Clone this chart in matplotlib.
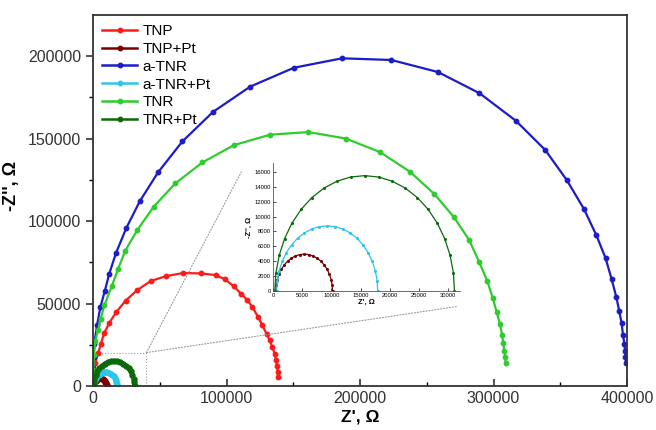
import matplotlib.pyplot as plt
from matplotlib.patches import ConnectionPatch, Rectangle
from matplotlib.ticker import MultipleLocator

plt.rcParams['font.family'] = ['Liberation Sans', 'DejaVu Sans']

# Nyquist data (Z', -Z'' in ohm)
tnp_x = [300, 800, 1700, 3700, 5800, 8200, 12200, 17500, 24500, 33000, 43200, 54900,
         67400, 80700, 91900, 98900, 105400, 110900, 115600, 119300, 123600, 126800,
         130100, 132300, 134300, 136100, 137100, 137800, 138300, 138600]
tnp_y = [3000, 8000, 14000, 20000, 25400, 32100, 38500, 45100, 52000, 58200, 63800, 66800,
         68600, 68400, 67400, 64800, 60600, 56200, 52200, 48100, 42100, 37100,
         31700, 28000, 24000, 19600, 16000, 12400, 8900, 5900]

tnppt_x = [500, 560, 740, 1030, 1430, 1920, 2500, 3150, 3850, 4590, 5350, 6110,
           6850, 7550, 8200, 8780, 9270, 9670, 9960, 10140, 10200]
tnppt_y = [0, 770, 1530, 2250, 2910, 3500, 4000, 4410, 4710, 4890, 4950, 4890,
           4710, 4410, 4000, 3500, 2910, 2250, 1530, 770, 0]

atnr_x = [50, 100, 200, 400, 970, 3000, 5470, 8760, 12200, 17200, 24900, 35000, 48700,
          66900, 89900, 117800, 150500, 186500, 223400, 258400, 289500, 316800, 338800,
          355000, 367800, 377100, 384000, 388500, 392000, 394200, 396000, 397000,
          398000, 398500, 398800, 399100]
atnr_y = [1000, 5000, 11000, 18000, 26000, 37000, 47800, 57600, 68300, 80700, 95800, 112000,
          129500, 148200, 166100, 181400, 192800, 198500, 197500, 190200, 177400, 160700,
          143000, 124700, 107300, 91400, 77500, 64800, 54100, 45500, 38100, 31200,
          26000, 21600, 18000, 14400]

atnrpt_x = [630, 730, 1050, 1570, 2280, 3170, 4200, 5360, 6610, 7940, 9290, 10640,
            11970, 13220, 14380, 15410, 16300, 17010, 17530, 17850, 17950]
atnrpt_y = [0, 1370, 2700, 3970, 5150, 6190, 7080, 7800, 8320, 8650, 8750, 8650,
            8320, 7800, 7080, 6190, 5150, 3970, 2700, 1370, 0]

tnr_x = [50, 100, 250, 700, 1700, 3700, 5800, 8500, 14000, 18700, 24000, 33000, 45500,
         61600, 81900, 105600, 132600, 161300, 189300, 215000, 237400, 255600, 270400,
         281600, 289300, 295300, 299400, 302400, 304800, 306400, 307300, 308100,
         308600, 309100]
tnr_y = [1000, 4500, 10000, 19000, 27400, 34100, 41100, 49100, 60600, 70900, 81900, 94400,
         108800, 122800, 135500, 146000, 152300, 153900, 150000, 141800, 129900, 116500,
         102400, 88800, 75300, 63800, 53600, 44900, 37700, 31300, 26100, 21700,
         18000, 14400]

tnrpt_x = [300, 490, 1060, 1980, 3240, 4810, 6650, 8710, 10940, 13300, 15700, 18100,
           20460, 22690, 24760, 26590, 28160, 29420, 30350, 30920, 31100]
tnrpt_y = [0, 2420, 4790, 7040, 9110, 10960, 12540, 13810, 14740, 15310, 15500, 15310,
           14740, 13810, 12540, 10960, 9110, 7040, 4790, 2420, 0]

series = [
    ("TNP", tnp_x, tnp_y, "#ff1a1a"),
    ("TNP+Pt", tnppt_x, tnppt_y, "#7a0000"),
    ("a-TNR", atnr_x, atnr_y, "#1c1cc8"),
    ("a-TNR+Pt", atnrpt_x, atnrpt_y, "#2ec4ec"),
    ("TNR", tnr_x, tnr_y, "#2ecc2e"),
    ("TNR+Pt", tnrpt_x, tnrpt_y, "#0a6a0a"),
]
small = ["TNP+Pt", "a-TNR+Pt", "TNR+Pt"]

fig = plt.figure(figsize=(6.56, 4.30), dpi=100)
ax = fig.add_axes([0.1418, 0.1012, 0.814, 0.8639])

for name, x, y, c in series:
    if name in small:
        ax.plot(x, y, '-o', color=c, lw=3.0, ms=3.6, label=name)
    else:
        ax.plot(x, y, '-o', color=c, lw=1.6, ms=3.2, label=name)

ax.set_xlim(0, 400000)
ax.set_ylim(0, 224700)
ax.xaxis.set_major_locator(MultipleLocator(100000))
ax.xaxis.set_minor_locator(MultipleLocator(50000))
ax.yaxis.set_major_locator(MultipleLocator(50000))
ax.yaxis.set_minor_locator(MultipleLocator(25000))
ax.tick_params(axis='x', which='both', direction='in')
ax.tick_params(axis='y', which='both', direction='out')
ax.tick_params(which='major', length=5, width=1.2, labelsize=11.5, colors='#333333')
ax.tick_params(which='minor', length=3, width=1.0)
for s in ax.spines.values():
    s.set_linewidth(1.3)
    s.set_color('#333333')

ax.set_xlabel("Z', \u03a9", fontsize=12.5, fontweight='bold', labelpad=2)
ax.set_ylabel("-Z'', \u03a9", fontsize=13, fontweight='bold')
ax.yaxis.set_label_coords(-0.137, 0.54)

leg = ax.legend(loc='upper left', frameon=False, fontsize=11, handlelength=2.3,
                handletextpad=0.35, labelspacing=0.25, borderaxespad=0.4,
                borderpad=0.2)
for h in leg.get_lines():
    h.set_linewidth(1.8)
    h.set_markersize(3.2)

# inset with the three small arcs
axins = fig.add_axes([0.4162, 0.3233, 0.2846, 0.2977])
axins.set_facecolor('none')
for name, x, y, c in series:
    if name in small:
        axins.plot(x, y, '-o', color=c, lw=0.9, ms=1.2)
axins.set_xlim(0, 32000)
axins.set_ylim(0, 17200)
axins.xaxis.set_major_locator(MultipleLocator(5000))
axins.yaxis.set_major_locator(MultipleLocator(2000))
axins.spines['top'].set_visible(False)
axins.spines['right'].set_visible(False)
for s in ['left', 'bottom']:
    axins.spines[s].set_linewidth(0.6)
    axins.spines[s].set_color('#555555')
axins.tick_params(direction='in', length=2, width=0.5, labelsize=4.2, pad=1.5)
axins.set_xlabel("Z', \u03a9", fontsize=5.5, fontweight='bold', labelpad=0.5)
axins.set_ylabel("-Z'', \u03a9", fontsize=5.5, fontweight='bold', labelpad=1)

# zoom box and guide lines
corner = (40000, 20500)
ax.add_patch(Rectangle((0, 0), corner[0], corner[1], fill=False,
                       ls=':', lw=0.8, ec='#999999'))
for xyB in [(-0.17, 0.93), (0.986, -0.121)]:
    con = ConnectionPatch(xyA=corner, coordsA=ax.transData, xyB=xyB,
                          coordsB=axins.transAxes, ls=':', lw=0.8, color='#999999')
    fig.add_artist(con)

fig.savefig("out.png", dpi=100)
